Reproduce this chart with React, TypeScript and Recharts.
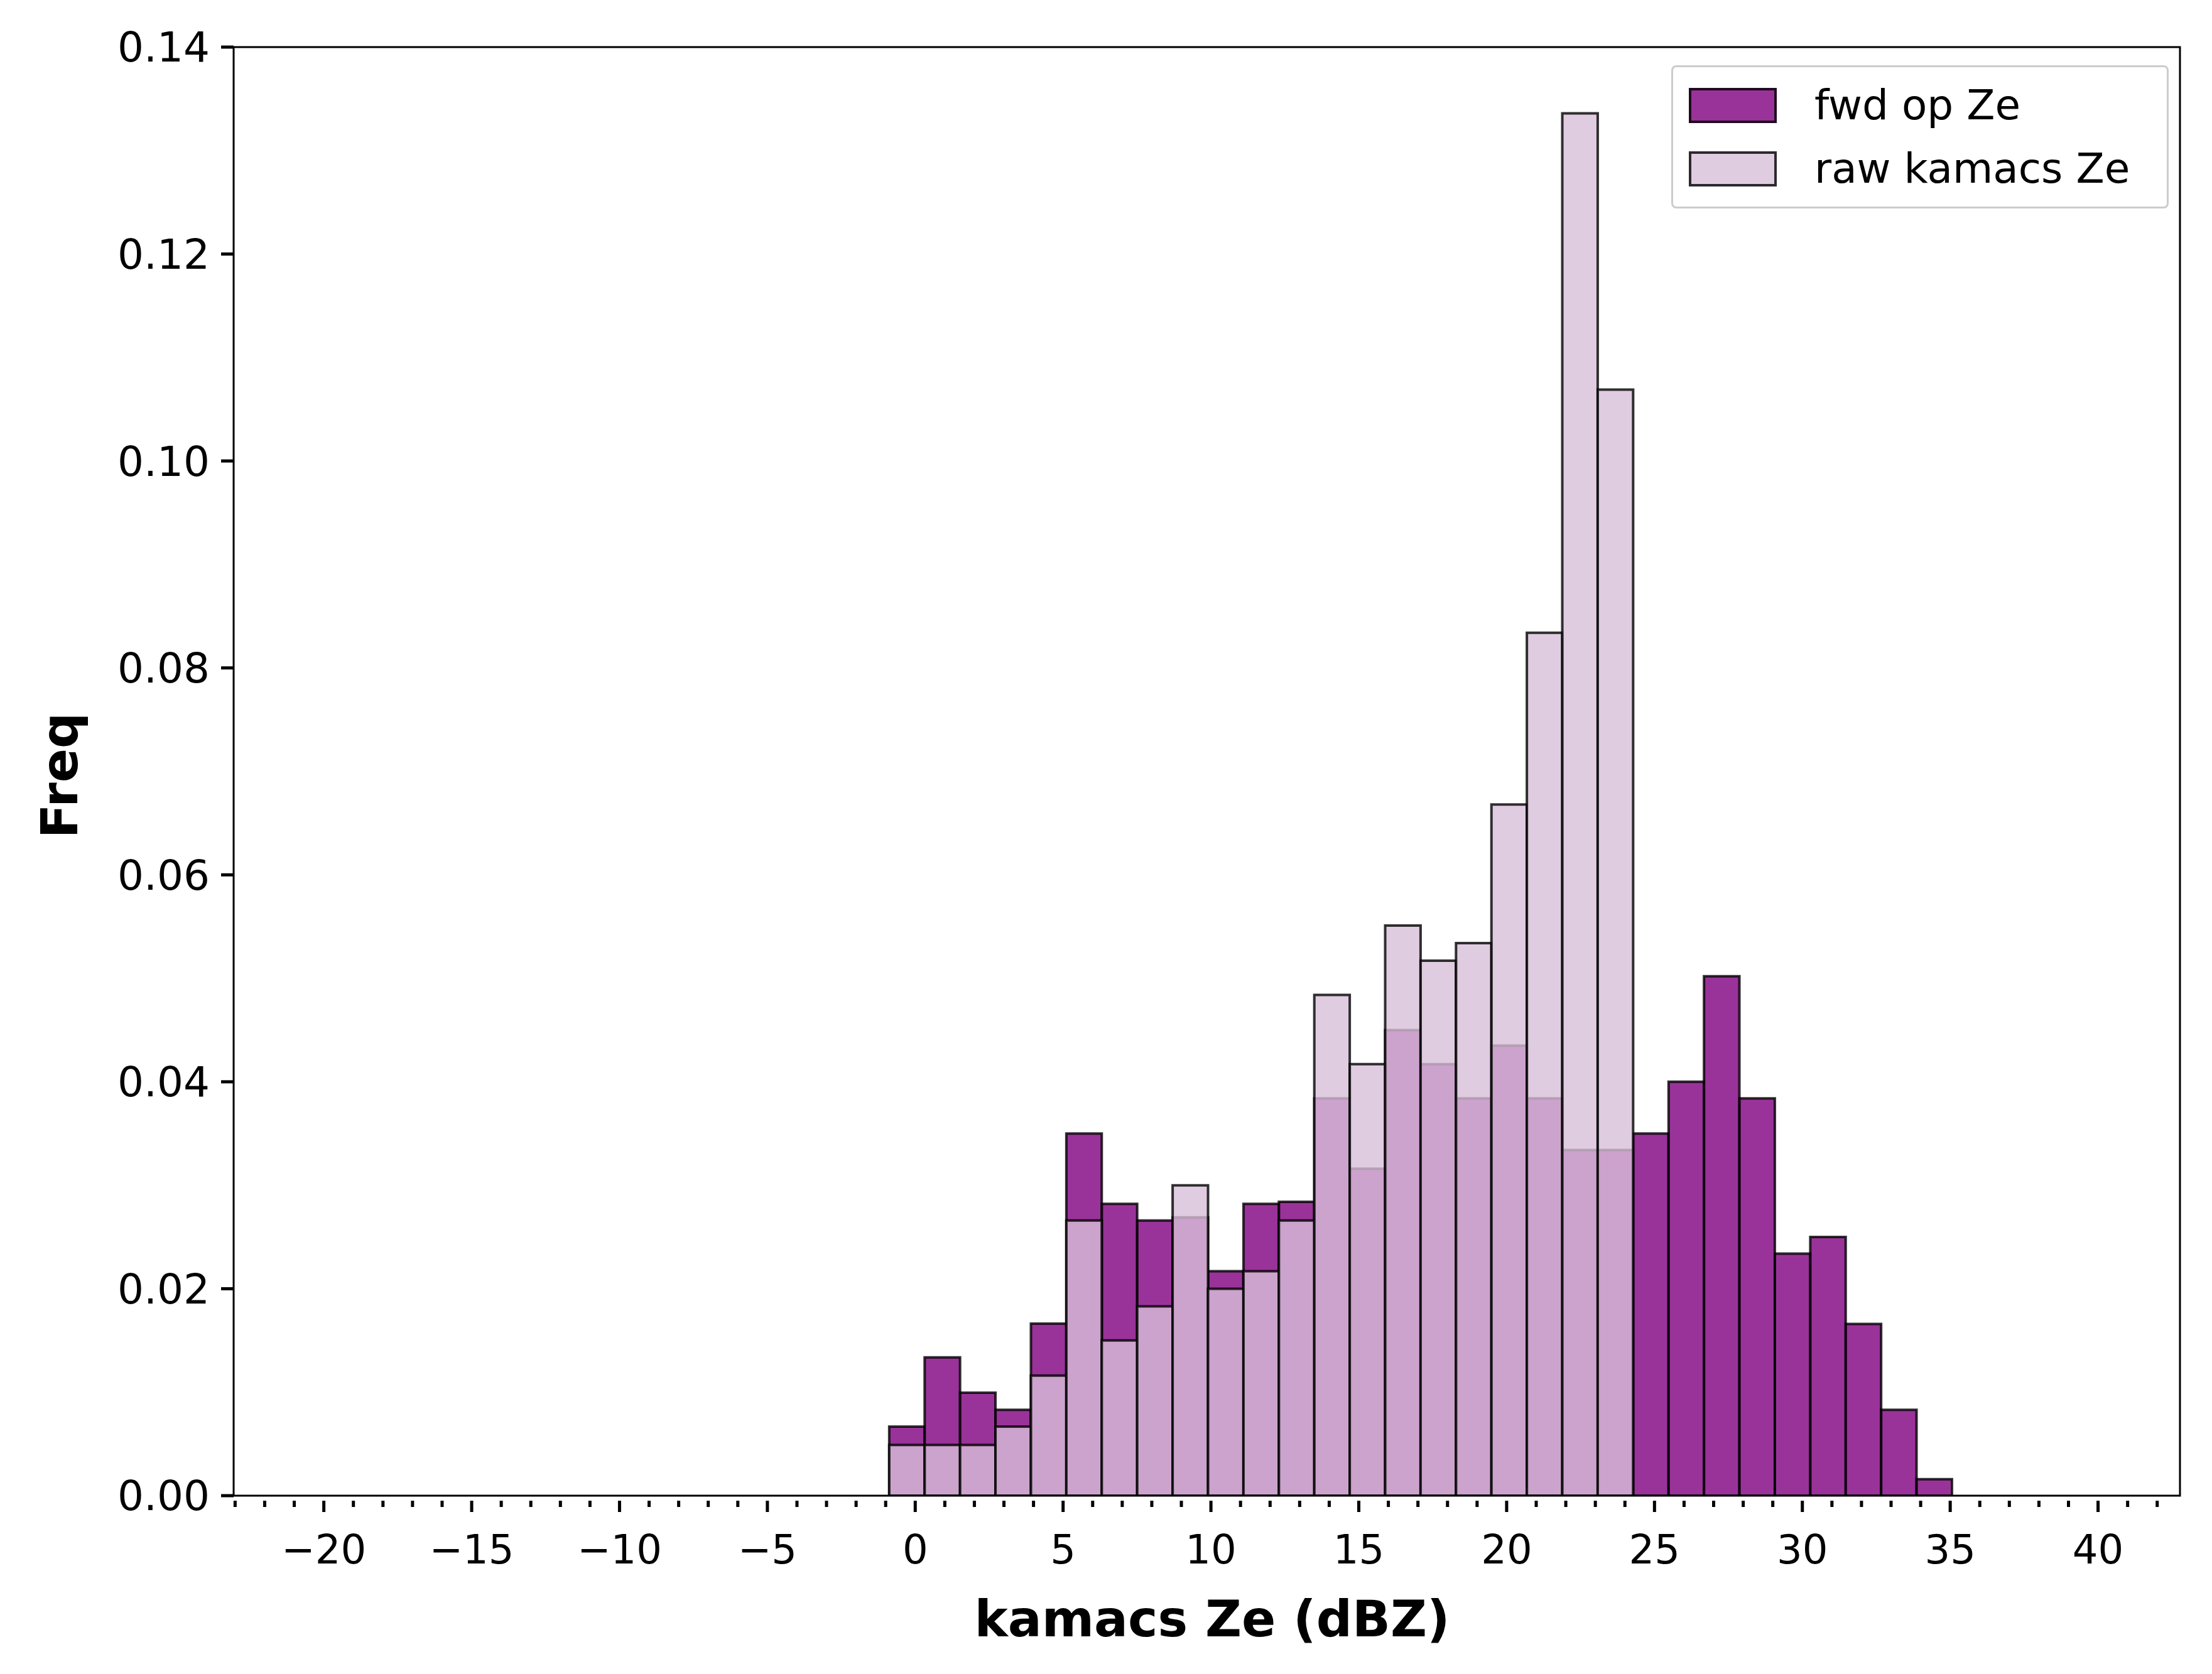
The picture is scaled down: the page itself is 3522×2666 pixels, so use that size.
import React from 'react';
import { ComposedChart, XAxis, YAxis, ReferenceArea } from 'recharts';

const BIN_START = -0.88;
const BIN_WIDTH = 1.198;
const fwdOpZe = [0.00668, 0.01336, 0.00995, 0.0083, 0.01663, 0.035, 0.0282, 0.0266, 0.0269, 0.0217, 0.0282, 0.0284, 0.0384, 0.0316, 0.045, 0.0417, 0.0384, 0.0435, 0.0384, 0.0334, 0.0334, 0.035, 0.040, 0.0502, 0.0384, 0.0234, 0.025, 0.0166, 0.0083, 0.0016];
const rawKamacsZe = [0.0049, 0.0049, 0.0049, 0.00668, 0.0116, 0.0266, 0.015, 0.0183, 0.030, 0.0200, 0.0217, 0.0266, 0.0484, 0.0417, 0.0551, 0.0517, 0.0534, 0.0668, 0.0834, 0.1336, 0.1069, 0, 0, 0, 0, 0, 0, 0, 0, 0];
const xTicks = Array.from({ length: 66 }, (_, i) => i - 23);
const yTicks = [0, 0.02, 0.04, 0.06, 0.08, 0.1, 0.12, 0.14];
const X_DOMAIN = [-23.05, 42.77];
const Y_DOMAIN = [0, 0.14];

const FONT = 'DejaVu Sans';
const data = [{ x: 0, y: 0 }];

const XTick = (props: any) => {
  const { x, y, payload } = props;
  const v = payload.value;
  const major = v % 5 === 0;
  const len = major ? 18 : 10;
  return (
    <g>
      <line x1={x} x2={x} y1={y} y2={y + len} stroke="#000" strokeWidth={5} />
      {major && (
        <text x={x} y={y + 100} textAnchor="middle" fontSize={64} fontFamily={FONT} fill="#000">
          {v < 0 ? '\u2212' + Math.abs(v) : String(v)}
        </text>
      )}
    </g>
  );
};

export default function App() {
  return (
    <div style={{ position: 'absolute', left: 0, top: 0, width: 3522, height: 2666, background: '#fff' }}>
      <ComposedChart width={3522} height={2666} data={data} margin={{ left: 172, right: 51, top: 75, bottom: 184 }}>
        <XAxis type="number" dataKey="x" domain={X_DOMAIN} ticks={xTicks} allowDataOverflow interval={0}
          axisLine={false} tickLine={false} tick={<XTick />} height={100} />
        <YAxis type="number" domain={Y_DOMAIN} ticks={yTicks} allowDataOverflow width={200} axisLine={false}
          tickSize={20} tickMargin={18} tickLine={{ stroke: '#000', strokeWidth: 5 }}
          tickFormatter={(v: number) => v.toFixed(2)}
          tick={{ fontSize: 66, fontFamily: FONT, fill: '#000' }} />
        {fwdOpZe.map((v, i) => (
          <ReferenceArea key={'f' + i} x1={BIN_START + i * BIN_WIDTH} x2={BIN_START + (i + 1) * BIN_WIDTH} y1={0} y2={v}
            fill="#800080" fillOpacity={0.8} stroke="#000" strokeOpacity={0.8} strokeWidth={4} ifOverflow="hidden" />
        ))}
        {rawKamacsZe.map((v, i) => v > 0 ? (
          <ReferenceArea key={'r' + i} x1={BIN_START + i * BIN_WIDTH} x2={BIN_START + (i + 1) * BIN_WIDTH} y1={0} y2={v}
            fill="#D8BFD8" fillOpacity={0.8} stroke="#000" strokeOpacity={0.8} strokeWidth={4} ifOverflow="hidden" />
        ) : null)}
        <ReferenceArea x1={X_DOMAIN[0]} x2={X_DOMAIN[1]} y1={Y_DOMAIN[0]} y2={Y_DOMAIN[1]} fill="none" stroke="#000" strokeWidth={3} ifOverflow="visible" />
      </ComposedChart>
      <div style={{ position: 'absolute', left: 95, top: 1235, transform: 'translate(-50%,-50%) rotate(-90deg)', fontFamily: FONT, fontWeight: 'bold', fontSize: 80 }}>Freq</div>
      <div style={{ position: 'absolute', left: 1930, top: 2578, transform: 'translate(-50%,-50%)', fontFamily: FONT, fontWeight: 'bold', fontSize: 80, whiteSpace: 'nowrap' }}>kamacs Ze (dBZ)</div>
      <div style={{ position: 'absolute', left: 2661, top: 104, width: 792, height: 228, boxSizing: 'border-box', border: '3px solid #ccc', borderRadius: 8, background: 'rgba(255,255,255,0.8)', fontFamily: FONT, fontSize: 66 }}>
        {[['fwd op Ze', 'rgba(128,0,128,0.8)'], ['raw kamacs Ze', 'rgba(216,191,216,0.8)']].map(([label, c], i) => (
          <div key={label} style={{ position: 'absolute', left: 25, top: 22 + i * 101, display: 'flex', alignItems: 'center' }}>
            <div style={{ width: 140, height: 56, boxSizing: 'border-box', background: c, border: '4px solid rgba(0,0,0,0.8)' }} />
            <span style={{ marginLeft: 60 }}>{label}</span>
          </div>
        ))}
      </div>
    </div>
  );
}
